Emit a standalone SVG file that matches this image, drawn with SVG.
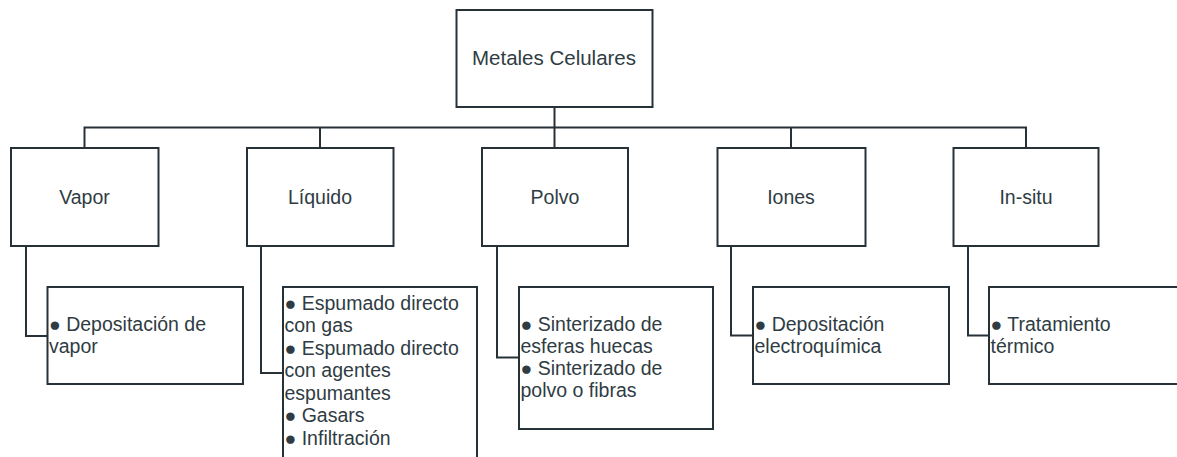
<svg xmlns="http://www.w3.org/2000/svg" width="1177" height="457" viewBox="0 0 1177 457">
<style>
.box{fill:#ffffff;stroke:#263238;stroke-width:2}
.conn{fill:none;stroke:#263238;stroke-width:2}
.lbl{font-family:"Liberation Sans",Arial,Helvetica,sans-serif;font-size:19.5px;fill:#2f3c43}
.c{text-anchor:middle}
.big{font-size:20.5px}
</style>
<rect width="1177" height="457" fill="#ffffff"/>
<g id="connectors">
<path class="conn" d="M554.5 107 V127.5 M84.5 148 V127.5 H1026 V148 M320 127.5 V148 M554.5 127.5 V148 M791 127.5 V148"/>
<path class="conn" d="M26 246 V336 H47.5"/>
<path class="conn" d="M261 246 V373 H283"/>
<path class="conn" d="M497 246 V357.5 H519"/>
<path class="conn" d="M731 246 V335.5 H753"/>
<path class="conn" d="M968 246 V335.5 H989"/>
</g>
<g id="root">
<rect class="box" x="456.5" y="10" width="196" height="97"/>
<text class="lbl c big" x="554" y="65">Metales Celulares</text>
</g>
<g id="vapor">
<rect class="box" x="11" y="148" width="147.5" height="98"/>
<text class="lbl c" x="84.5" y="204">Vapor</text>
</g>
<g id="liquido">
<rect class="box" x="247" y="148" width="146.5" height="98"/>
<text class="lbl c" x="320" y="204">Líquido</text>
</g>
<g id="polvo">
<rect class="box" x="482" y="148" width="146" height="98"/>
<text class="lbl c" x="555" y="204">Polvo</text>
</g>
<g id="iones">
<rect class="box" x="717.5" y="148" width="148" height="98"/>
<text class="lbl c" x="791" y="204">Iones</text>
</g>
<g id="insitu">
<rect class="box" x="953.5" y="148" width="145" height="98"/>
<text class="lbl c" x="1026" y="204">In-situ</text>
</g>
<g id="vapor-detail">
<rect class="box" x="47.5" y="287" width="195.5" height="97"/>
<text class="lbl" x="49"><tspan x="49" y="330.5">● Depositación de</tspan><tspan x="49" y="352.5">vapor</tspan></text>
</g>
<g id="liquido-detail">
<rect class="box" x="283" y="287" width="194" height="172"/>
<text class="lbl"><tspan x="284.5" y="309.5">● Espumado directo</tspan><tspan x="284.5" y="332">con gas</tspan><tspan x="284.5" y="354.5">● Espumado directo</tspan><tspan x="284.5" y="377">con agentes</tspan><tspan x="284.5" y="399.5">espumantes</tspan><tspan x="284.5" y="422">● Gasars</tspan><tspan x="284.5" y="444.5">● Infiltración</tspan></text>
</g>
<g id="polvo-detail">
<rect class="box" x="519" y="287" width="194" height="142"/>
<text class="lbl"><tspan x="520.5" y="330.5">● Sinterizado de</tspan><tspan x="520.5" y="352.5">esferas huecas</tspan><tspan x="520.5" y="374.5">● Sinterizado de</tspan><tspan x="520.5" y="396.5">polvo o fibras</tspan></text>
</g>
<g id="iones-detail">
<rect class="box" x="753" y="287" width="196" height="97"/>
<text class="lbl"><tspan x="754.5" y="330.5">● Depositación</tspan><tspan x="754.5" y="352.5">electroquímica</tspan></text>
</g>
<g id="insitu-detail">
<rect class="box" x="989" y="287" width="196" height="97"/>
<text class="lbl"><tspan x="990.5" y="330.5">● Tratamiento</tspan><tspan x="990.5" y="352.5">térmico</tspan></text>
</g>
</svg>
